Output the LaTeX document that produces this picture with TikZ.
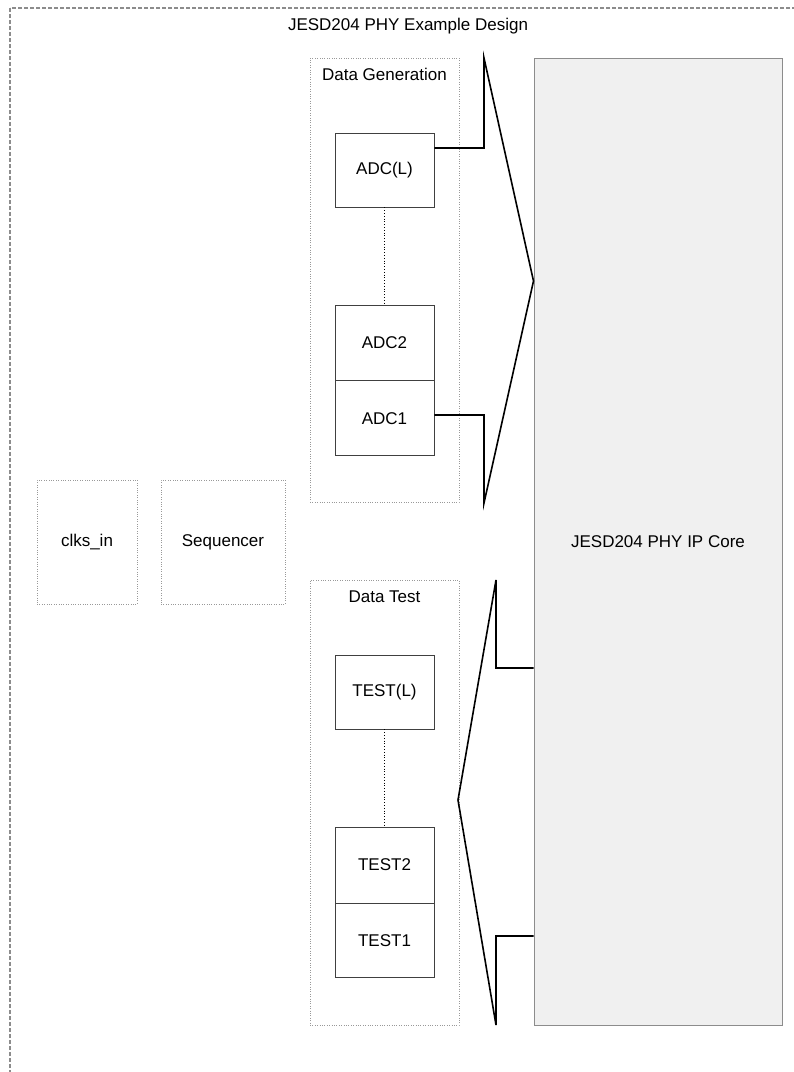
\documentclass[tikz,border=0pt]{standalone}
\usepackage{fontspec}
\setmainfont{Liberation Sans}
\usetikzlibrary{positioning}

\begin{document}
\begin{tikzpicture}[
        x=1pt, y=-1pt,
        every node/.style={align=center, font=\fontsize{17}{20}\selectfont},
        group/.style={rectangle, draw=black!40, dotted, inner sep=0pt},
        block/.style={rectangle, draw=black!75, line width=0.9pt, fill=white, inner sep=0pt, minimum width=99pt},
        core/.style={rectangle, draw=black!45, line width=1pt, fill=black!6, inner sep=0pt},
        frame/.style={draw=black!45, dashed, line width=1.6pt, dash pattern=on 4pt off 2pt},
        bus/.style={draw=black, line width=1.6pt, line join=miter}
    ]
    \useasboundingbox (0,0) rectangle (794,1072);
    \clip (0,0) rectangle (794,1072);

    % Outer design frame (runs off the page)
    \draw[frame] (10,8) rectangle (900,1200);
    \node (title) at (408,26) {JESD204 PHY Example Design};

    % Clocks and sequencer
    \node[group, minimum width=100pt, minimum height=124pt] (clks) at (87,542) {clks\_in};
    \node[group, minimum width=124pt, minimum height=124pt] (seq) at (223,542) {Sequencer};

    % Data generation
    \node[group, minimum width=149pt, minimum height=444pt] (gen) at (384.5,280) {};
    \node[anchor=north, yshift=-7pt] (genlabel) at (gen.north) {Data Generation};
    \node[block, minimum height=74pt] (adcl) at (384.5,170) {ADC(L)};
    \node[block, minimum height=75pt] (adc2) at (384.5,342.5) {ADC2};
    \node[block, minimum height=75pt, below=0pt of adc2] (adc1) {ADC1};
    \draw[dotted, line width=0.8pt] (adcl) -- (adc2);

    % Data test
    \node[group, minimum width=149pt, minimum height=445pt] (test) at (384.5,802.5) {};
    \node[anchor=north, yshift=-7pt] (testlabel) at (test.north) {Data Test};
    \node[block, minimum height=74pt] (testl) at (384.5,692) {TEST(L)};
    \node[block, minimum height=76pt] (test2) at (384.5,865) {TEST2};
    \node[block, minimum height=74pt, below=0pt of test2] (test1) {TEST1};
    \draw[dotted, line width=0.8pt] (testl) -- (test2);

    % IP core
    \node[core, minimum width=248pt, minimum height=967pt] (ipcore) at (658,541.5) {JESD204 PHY IP Core};

    % Buses
    \coordinate (gtop) at (484,58);
    \coordinate (gbot) at (484,503);
    \coordinate (gtip) at (ipcore.west |- 0,281);
    \draw[bus] (adcl.east |- 0,148) -| (gtop) -- (gtip) -- (gbot) |- (adc1.east |- 0,415);

    \coordinate (ttop) at (496,580);
    \coordinate (tbot) at (496,1025);
    \coordinate (ttip) at (458,800);
    \draw[bus] (ipcore.west |- 0,668) -| (ttop) -- (ttip) -- (tbot) |- (ipcore.west |- 0,936);

\end{tikzpicture}
\end{document}
